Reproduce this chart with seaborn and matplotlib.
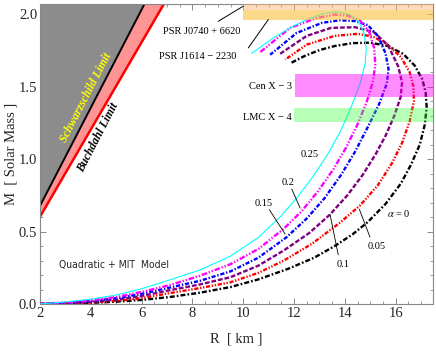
import numpy as np
import matplotlib
matplotlib.use("Agg")
import matplotlib.pyplot as plt
import seaborn as sns

# ---------------- data ----------------
alphas = ["0", "0.05", "0.1", "0.15", "0.2", "0.25"]

R_a0 = [2.0, 3.0, 4.0, 5.0, 6.0, 7.1, 8.3, 9.5, 10.6, 11.8, 12.8, 13.6, 14.3, 14.9, 15.6, 16.2, 16.6, 16.95, 17.15, 17.22, 17.18, 17.05, 16.75, 16.3, 15.7, 15.0, 14.3, 13.6, 13.0, 12.4, 11.9]
M_a0 = [0.0, 0.003, 0.008, 0.016, 0.028, 0.048, 0.078, 0.117, 0.17, 0.245, 0.32, 0.40, 0.48, 0.565, 0.69, 0.83, 0.96, 1.1, 1.24, 1.36, 1.46, 1.55, 1.645, 1.725, 1.78, 1.803, 1.80, 1.78, 1.752, 1.71, 1.665]

R_a05 = [2.0, 3.0, 4.0, 5.0, 6.0, 7.1, 8.3, 9.5, 10.6, 11.6, 12.7, 13.8, 14.6, 15.3, 15.85, 16.25, 16.55, 16.72, 16.7, 16.55, 16.2, 15.65, 15.1, 14.5, 13.6, 12.5, 11.65]
M_a05 = [0.0, 0.004, 0.011, 0.022, 0.04, 0.075, 0.11, 0.15, 0.215, 0.30, 0.415, 0.56, 0.68, 0.82, 0.97, 1.11, 1.26, 1.40, 1.50, 1.60, 1.705, 1.795, 1.845, 1.864, 1.85, 1.79, 1.686]

R_a10 = [2.0, 3.0, 4.0, 5.0, 6.0, 7.1, 8.3, 9.5, 10.6, 11.6, 12.6, 13.4, 14.1, 14.7, 15.2, 15.6, 15.95, 16.2, 16.25, 16.1, 15.7, 15.15, 14.4, 13.45, 12.5, 11.4]
M_a10 = [0.0, 0.006, 0.015, 0.03, 0.055, 0.095, 0.135, 0.185, 0.265, 0.37, 0.49, 0.615, 0.75, 0.89, 1.03, 1.16, 1.3, 1.43, 1.53, 1.64, 1.785, 1.875, 1.91, 1.905, 1.85, 1.72]

R_a15 = [2.0, 3.0, 4.0, 5.0, 6.0, 7.1, 8.3, 9.5, 10.6, 11.7, 12.5, 13.2, 13.85, 14.4, 14.9, 15.35, 15.65, 15.72, 15.6, 15.3, 14.9, 14.4, 13.8, 13.1, 12.1, 11.06]
M_a15 = [0.0, 0.008, 0.02, 0.04, 0.07, 0.113, 0.16, 0.225, 0.32, 0.46, 0.59, 0.73, 0.89, 1.05, 1.22, 1.38, 1.52, 1.62, 1.73, 1.85, 1.925, 1.952, 1.958, 1.94, 1.87, 1.72]

R_a20 = [2.0, 3.0, 4.0, 5.0, 6.0, 7.1, 8.3, 9.5, 10.6, 11.6, 12.3, 12.95, 13.55, 14.05, 14.5, 14.85, 15.1, 15.2, 15.15, 14.95, 14.6, 14.1, 13.6, 12.9, 11.84, 10.66]
M_a20 = [0.0, 0.01, 0.025, 0.048, 0.083, 0.13, 0.195, 0.275, 0.38, 0.52, 0.64, 0.78, 0.93, 1.08, 1.24, 1.39, 1.53, 1.65, 1.77, 1.88, 1.955, 1.99, 1.997, 1.974, 1.905, 1.737]

R_a25 = [2.0, 3.0, 4.0, 5.0, 6.0, 7.1, 8.3, 9.5, 10.6, 11.45, 12.1, 12.75, 13.35, 13.85, 14.25, 14.6, 14.8, 14.84, 14.76, 14.53, 14.2, 13.68, 13.15, 12.5, 11.84, 11.19, 10.33]
M_a25 = [0.0, 0.014, 0.033, 0.062, 0.105, 0.166, 0.235, 0.33, 0.46, 0.60, 0.73, 0.88, 1.04, 1.2, 1.36, 1.52, 1.66, 1.76, 1.87, 1.95, 1.997, 2.016, 2.004, 1.963, 1.905, 1.836, 1.73]

# observational mass bands
band_names = ["PSR J0740 + 6620", "PSR J1614 \u2212 2230", "Cen X \u2212 3", "LMC X \u2212 4"]
band_low = [2.03, 1.963, 1.426, 1.253]
band_high = [2.24, 2.03, 1.59, 1.352]
band_rstart = [10.0, 10.0, 12.04, 12.0]

# limit lines: M = R / k  (k in km per solar mass)
k_schw = 2.953   # Schwarzschild R = 2GM/c^2
k_buch = 3.322   # Buchdahl R = 9GM/(4c^2)

# ---------------- styling ----------------
sns.set_theme(style="ticks")
plt.rcParams["font.family"] = ["Liberation Serif", "DejaVu Serif"]
plt.rcParams["lines.scale_dashes"] = False
plt.rcParams["mathtext.fontset"] = "stix"

fig = plt.figure(figsize=(4.36, 3.54), dpi=100)
ax = fig.add_axes([40 / 436, 50 / 354, 393 / 436, 300 / 354])

xmin, xmax, ymin, ymax = 2.0, 17.47, 0.0, 2.07

# limits region
Rg = np.array([xmin, xmax])
ax.fill_between(Rg, Rg / k_schw, ymax + 1, color="#8c8c8c", lw=0, zorder=1)
ax.fill_between(Rg, Rg / k_buch, Rg / k_schw, color="#ff9494", lw=0, zorder=1)
ax.plot(Rg, Rg / k_schw, color="black", lw=1.4, zorder=2)
ax.plot(Rg, Rg / k_buch, color="red", lw=1.8, zorder=2)

# curves
curves = [
    (R_a0, M_a0, "black", (0, (3.6, 1.5, 1.2, 1.5)), 1.7),
    (R_a05, M_a05, "red", (0, (3.0, 1.2, 1.0, 1.2, 1.0, 1.2)), 1.7),
    (R_a10, M_a10, "#800080", (0, (3.4, 1.4)), 1.7),
    (R_a15, M_a15, "blue", (0, (3.0, 1.3, 1.0, 1.3)), 1.7),
    (R_a20, M_a20, "magenta", (0, (4.0, 1.3, 1.0, 1.3, 1.0, 1.3)), 1.7),
    (R_a25, M_a25, "cyan", "-", 0.8),
]
for R, M, col, ls, lw in curves:
    sns.lineplot(x=R, y=M, sort=False, estimator=None, color=col,
                 linestyle=ls, lw=lw, ax=ax, zorder=3)

# bands
band_colors = ["#fbb679", "#fbbf3a", "#ff00ff", "#33ff33"]
band_alpha = [0.5, 0.6, 0.45, 0.35]
for lo, hi, rs, c, a in zip(band_low, band_high, band_rstart, band_colors, band_alpha):
    ax.fill_between([rs, xmax], [lo, lo], [hi, hi], color=c, alpha=a, lw=0, zorder=4)

# texts
tk = dict(fontsize=7.5, color="black", zorder=6)
ax.text(8.38, 1.878, band_names[0], ha="center", va="center", **tk)
ax.text(8.22, 1.709, band_names[1], ha="center", va="center", **tk)
ax.text(11.06, 1.50, band_names[2], ha="center", va="center", **tk)
ax.text(10.94, 1.29, band_names[3], ha="center", va="center", **tk)
ax.plot([9.02, 10.0], [1.951, 2.055], color="black", lw=0.7, zorder=6)
ax.plot([10.2, 10.99], [1.767, 1.963], color="black", lw=0.7, zorder=6)

ax.text(12.63, 1.03, "0.25", ha="center", va="center", **tk)
ax.text(11.78, 0.841, "0.2", ha="center", va="center", **tk)
ax.text(10.82, 0.691, "0.15", ha="center", va="center", **tk)
ax.text(13.94, 0.27, "0.1", ha="center", va="center", **tk)
ax.text(15.26, 0.396, "0.05", ha="center", va="center", **tk)
ax.text(16.11, 0.627, r"$\alpha$ = 0", ha="center", va="center", **tk)
for (x0, y0, x1, y1) in [(11.91, 0.793, 12.24, 0.662), (11.03, 0.65, 11.65, 0.482),
                         (13.42, 0.615, 13.74, 0.339), (14.57, 0.654, 14.99, 0.461)]:
    ax.plot([x0, x1], [y0, y1], color="black", lw=0.6, zorder=6)

ax.text(4.91, 0.27, "Quadratic + MIT  Model", ha="center", va="center", fontsize=7.5,
        family=["DejaVu Sans"], fontstretch="condensed", zorder=6)

ax.set_xlim(xmin, xmax)
ax.set_ylim(ymin, ymax)
fig.canvas.draw()
p0 = ax.transData.transform((2.0, 2.0 / k_schw))
p1 = ax.transData.transform((6.0, 6.0 / k_schw))
ang = np.degrees(np.arctan2(p1[1] - p0[1], p1[0] - p0[0]))
ax.text(3.83, 1.424, "Schwarzschild Limit", rotation=ang, rotation_mode="anchor",
        ha="center", va="center", color="yellow", fontsize=8.5, fontweight="bold",
        style="italic", zorder=6)
ax.text(4.28, 1.15, "Buchdahl Limit", rotation=ang, rotation_mode="anchor",
        ha="center", va="center", color="black", fontsize=8.5, fontweight="bold",
        style="italic", zorder=6)

# axes styling
ax.set_xticks(np.arange(2, 17, 2))
ax.set_yticks(np.arange(0, 2.01, 0.5))
ax.set_xticklabels([f"{v:d}" for v in range(2, 17, 2)])
ax.set_yticklabels([f"{v:.1f}" for v in np.arange(0, 2.01, 0.5)])
ax.set_xticks(np.arange(2, 17.5, 0.5), minor=True)
ax.set_yticks(np.arange(0, 2.07, 0.1), minor=True)
ax.tick_params(which="both", direction="in", top=True, right=True, color="#888888",
               labelsize=10.5, pad=2)
ax.tick_params(which="major", length=4, width=0.7)
ax.tick_params(which="minor", length=2, width=0.6)
for s in ax.spines.values():
    s.set_color("#888888")
    s.set_linewidth(0.8)
ax.set_xlabel("R  [ km ]", fontsize=10.5, labelpad=9)
ax.set_ylabel("M  [ Solar Mass ]", fontsize=10.5, labelpad=1)
ax.grid(False)

fig.savefig("out.png", dpi=100)
